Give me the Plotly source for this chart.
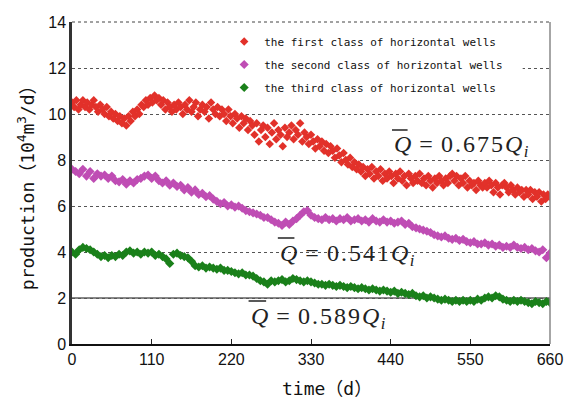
import plotly.graph_objects as go

# ---- data ----
# first class: one sample every 3 days
first_class = [10.5, 10.3, 10.6, 10.2, 10.4, 10.6, 10.3, 10.5, 10.2, 10.4,
               10.6, 10.3, 10.1, 10.4, 10.2, 10.0, 10.3, 9.9, 10.1, 9.8,
               10.0, 9.7, 9.9, 9.6, 9.8, 9.5, 9.9, 9.7, 10.1, 9.9,
               10.2, 10.0, 10.4, 10.3, 10.6, 10.4, 10.7, 10.5, 10.8, 10.6,
               10.7, 10.4, 10.6, 10.2, 10.5, 10.3, 10.1, 10.4, 10.2, 10.5,
               10.3, 10.0, 10.4, 10.2, 10.6, 10.1, 10.3, 10.5, 9.9, 10.2,
               10.4, 10.1, 10.3, 9.8, 10.5, 10.2, 10.0, 10.3, 9.9, 10.2,
               10.0, 9.7, 10.2, 9.9, 9.6, 10.0, 9.8, 9.4, 9.9, 9.6,
               9.8, 9.3, 9.7, 9.5, 9.1, 9.6, 8.8, 9.3, 9.5, 9.0,
               9.4, 8.7, 9.2, 9.6, 8.9, 9.3, 9.1, 8.6, 9.4, 9.0,
               9.2, 9.5, 8.9, 9.3, 9.1, 9.6, 8.8, 9.2, 9.0, 8.7,
               9.1, 8.8, 8.5, 8.9, 8.6, 8.8, 8.4, 8.7, 8.3, 8.6,
               8.4, 8.1, 8.5, 8.2, 7.9, 8.3, 8.0, 7.8, 8.1, 7.7,
               7.9, 7.6, 7.8, 7.5, 7.7, 7.3, 7.6, 7.4, 7.7, 7.2,
               7.5, 7.3, 7.6, 7.1, 7.4, 7.2, 7.5, 7.3, 7.0, 7.4,
               7.2, 7.5, 7.1, 7.3, 6.9, 7.4, 7.2, 7.0, 7.3, 7.1,
               7.4, 7.0, 7.2, 6.9, 7.3, 7.1, 6.8, 7.2, 7.0, 7.3,
               7.1, 6.9, 7.2, 7.0, 7.3, 7.4, 7.1, 7.3, 6.9, 7.2,
               7.0, 7.3, 6.8, 7.1, 6.9, 7.0, 6.7, 7.1, 6.9, 6.8,
               7.0, 6.8, 7.1, 6.9, 6.6, 7.0, 6.8, 6.5, 6.9, 7.0,
               6.8, 6.6, 6.9, 6.7, 6.5, 6.8, 6.6, 6.7, 6.4, 6.7,
               6.5, 6.7, 6.3, 6.6, 6.4, 6.6, 6.2, 6.5, 6.3, 6.5,
               6.4]
# second and third class: one sample every 5 days
second_class = [7.6, 7.5, 7.4, 7.6, 7.3, 7.5, 7.2, 7.4, 7.3, 7.35, 7.2, 7.3, 7.1, 7.05, 7.15, 6.95,
                7.1, 7.0, 7.15, 7.2, 7.3, 7.35, 7.2, 7.3, 7.1, 7.0, 7.1, 6.9, 7.0, 6.85, 6.9, 6.7,
                6.8, 6.6, 6.7, 6.5, 6.55, 6.4, 6.45, 6.3, 6.2, 6.1, 6.15, 6.0, 6.05, 5.95, 6.0, 5.9,
                5.8, 5.75, 5.7, 5.65, 5.6, 5.5, 5.5, 5.4, 5.3, 5.25, 5.15, 5.3, 5.2, 5.35, 5.45, 5.6,
                5.75, 5.8, 5.6, 5.5, 5.45, 5.4, 5.5, 5.4, 5.45, 5.35, 5.45, 5.4, 5.5, 5.35, 5.4, 5.45,
                5.35, 5.4, 5.3, 5.45, 5.35, 5.3, 5.4, 5.3, 5.35, 5.25, 5.3, 5.35, 5.2, 5.25, 5.1, 5.05,
                5.0, 4.95, 4.9, 4.85, 4.75, 4.7, 4.65, 4.7, 4.6, 4.55, 4.6, 4.5, 4.55, 4.45, 4.4, 4.45,
                4.35, 4.35, 4.4, 4.3, 4.35, 4.25, 4.3, 4.2, 4.25, 4.2, 4.3, 4.2, 4.15, 4.2, 4.1, 4.15,
                4.05, 4.0, 4.1, 3.75, 3.95]
third_class = [4.0, 3.9, 4.1, 4.2, 4.15, 4.1, 4.0, 3.9, 3.8, 3.85, 3.75, 3.85, 3.8, 3.9, 3.85, 4.0,
               4.05, 3.95, 4.0, 3.9, 4.0, 3.95, 4.0, 3.85, 3.9, 3.8, 3.7, 3.5, 3.9, 3.95, 3.85, 3.8,
               3.75, 3.6, 3.4, 3.35, 3.4, 3.3, 3.35, 3.3, 3.25, 3.3, 3.2, 3.2, 3.15, 3.1, 3.05, 3.1,
               3.0, 3.0, 2.95, 2.85, 2.75, 2.7, 2.6, 2.75, 2.7, 2.75, 2.8, 2.7, 2.75, 2.85, 2.8, 2.75,
               2.7, 2.75, 2.7, 2.65, 2.6, 2.6, 2.55, 2.6, 2.55, 2.5, 2.55, 2.5, 2.45, 2.5, 2.45, 2.4,
               2.45, 2.4, 2.35, 2.4, 2.35, 2.3, 2.35, 2.3, 2.25, 2.3, 2.2, 2.25, 2.2, 2.15, 2.2, 2.1,
               2.05, 2.1, 2.0, 2.05, 2.0, 1.95, 1.9, 1.95, 1.9, 1.85, 1.9, 1.85, 1.9, 1.85, 1.9, 1.85,
               1.95, 1.9, 2.0, 2.05, 2.0, 2.1, 2.05, 1.95, 1.9, 1.85, 1.9, 1.85, 1.9, 1.85, 1.8, 1.75,
               1.85, 1.8, 1.75, 1.85, 1.8]
days_first = list(range(0, 3 * len(first_class), 3))
days_other = list(range(0, 5 * len(second_class), 5))

series_names = ["the first class of horizontal wells",
                "the second class of horizontal wells",
                "the third class of horizontal wells"]
series_colors = ["#e2312a", "#bf4db4", "#1a801a"]
x_ticks = [0, 110, 220, 330, 440, 550, 660]
y_ticks = [0, 2, 4, 6, 8, 10, 12, 14]
ratio_labels = ["0.675", "0.541", "0.589"]

# ---- layout geometry (pixels) ----
W, H = 575, 399
L, R, T, B = 72, 13, 22, 55
PW, PH = W - L - R, H - T - B


def px(x):
    return (x - L) / PW


def py(y):
    return (H - B - y) / PH


fig = go.Figure()
for name, xs, vals, col, sz in zip(series_names, [days_first, days_other, days_other],
                                   [first_class, second_class, third_class], series_colors,
                                   [6.5, 7, 7]):
    fig.add_trace(go.Scatter(
        x=xs[:len(vals)], y=vals, mode="markers", name=name, legendgroup=name,
        marker=dict(symbol="diamond", size=sz, color=col, line=dict(width=0)),
    ))

tick_font = dict(family="Liberation Sans, Arial", size=16, color="#111")
fig.update_layout(
    width=W, height=H,
    margin=dict(l=L, r=R, t=T, b=B),
    plot_bgcolor="white", paper_bgcolor="white",
    showlegend=True,
    legend=dict(
        x=px(228), y=py(27), xanchor="left", yanchor="top",
        bgcolor="rgba(0,0,0,0)", borderwidth=0,
        font=dict(family="DejaVu Sans Mono", size=11, color="#111"),
        tracegroupgap=4, itemsizing="trace",
    ),
    xaxis=dict(
        range=[0, 660], tickvals=x_ticks, ticks="inside", ticklen=5, tickwidth=1, tickcolor="#222",
        showgrid=False, zeroline=False, showline=True, linecolor="#111", linewidth=1.5,
        tickfont=tick_font, ticklabeloverflow="allow",
    ),
    yaxis=dict(
        range=[0, 14], tickvals=y_ticks, ticks="", showgrid=True, gridcolor="#555", gridwidth=1,
        griddash="3px,3px", zeroline=False, showline=True, linecolor="#333", linewidth=2.5,
        tickfont=tick_font, ticklabeloverflow="allow",
    ),
)

shapes = [
    # white area behind the legend (covers the dashed gridline)
    dict(type="rect", xref="paper", yref="paper", x0=px(225), x1=px(534), y0=py(100), y1=py(30),
         fillcolor="white", line=dict(width=0), layer="above"),
    # solid reference line at y=2
    dict(type="line", xref="paper", yref="y", x0=0, x1=1, y0=2, y1=2,
         line=dict(color="#111", width=1.2), layer="between"),
    # dashed top border
    dict(type="line", xref="paper", yref="paper", x0=0, x1=1, y0=1, y1=1,
         line=dict(color="#444", width=1, dash="3px,3px")),
    # right border
    dict(type="line", xref="paper", yref="paper", x0=1, x1=1, y0=0, y1=1,
         line=dict(color="#888", width=1.5)),
]

HS = "\u200a"
# formula annotations: (Q left x px, center y px, overline x0, x1, y)
formula_pos = [(400, 146, 400, 416, 130), (283, 255, 283, 300, 238), (253, 318, 253, 271, 301)]
annotations = []
for lab, (lx, cy, ox0, ox1, oy) in zip(ratio_labels, formula_pos):
    spaced = HS.join(lab)
    annotations.append(dict(
        x=px(lx), y=py(cy), xref="paper", yref="paper", xanchor="left", yanchor="middle",
        text="<i>Q</i>" + HS + " = " + HS + spaced + HS + "<i>Q</i><sub><i>" + HS + "i</i></sub>",
        showarrow=False,
        font=dict(family="Liberation Serif, Times New Roman", size=24, color="#222"),
    ))
    shapes.append(dict(type="line", xref="paper", yref="paper", x0=px(ox0), x1=px(ox1),
                       y0=py(oy), y1=py(oy), line=dict(color="#222", width=1.5)))

annotations.append(dict(
    x=px(333), y=py(388), xref="paper", yref="paper", xanchor="center", yanchor="middle",
    text="time\uff08d\uff09", showarrow=False,
    font=dict(family="DejaVu Sans Mono, Noto Sans CJK SC", size=18, color="#111"),
))
annotations.append(dict(
    x=px(25), y=py(183), xref="paper", yref="paper", xanchor="center", yanchor="middle",
    text="production\uff0810<sup>4</sup>m<sup>3</sup>/d\uff09", showarrow=False, textangle=-90,
    font=dict(family="DejaVu Sans Mono, Noto Sans CJK SC", size=18, color="#111"),
))

fig.update_layout(shapes=shapes, annotations=annotations)
fig.write_html("out.html")
